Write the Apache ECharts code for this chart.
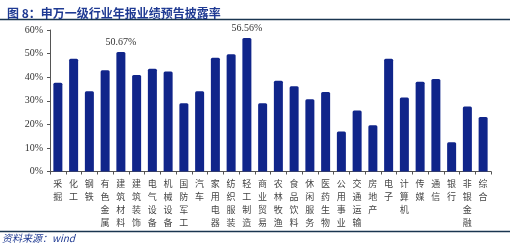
<!DOCTYPE html>
<html>
<head>
<meta charset="utf-8">
<script src="https://cdn.jsdelivr.net/npm/echarts@6/dist/echarts.min.js"></script>
<style>
html,body{margin:0;padding:0;background:#fff;}
#main{width:513px;height:246px;}
</style>
</head>
<body>
<div id="main"></div>
<script>
var categories = ['采掘','化工','钢铁','有色金属','建筑材料','建筑装饰','电气设备','机械设备','国防军工','汽车',
	'家用电器','纺织服装','轻工制造','商业贸易','农林牧渔','食品饮料','休闲服务','医药生物','公用事业','交通运输',
	'房地产','电子','计算机','传媒','通信','银行','非银金融','综合'];
var rates = [37.6, 47.8, 34.0, 42.9, 50.67, 40.9, 43.6, 42.4, 28.9, 34.0,
	48.2, 49.7, 56.56, 28.9, 38.5, 36.1, 30.6, 33.7, 17.0, 25.9,
	19.6, 47.8, 31.4, 38.1, 39.2, 12.4, 27.6, 23.1];
// only these two bars carry a value label in the picture
var labelled = ['建筑材料', '轻工制造'];
var yTicks = [0, 10, 20, 30, 40, 50, 60];

var myChart = echarts.init(document.getElementById('main'));
var option = {
	animation: false,
	title: {
		text: '图 8：申万一级行业年报业绩预告披露率',
		left: 2,
		top: 2,
		textStyle: {
			color: '#1f3a93',
			fontSize: 12,
			fontWeight: 'bold',
			fontFamily: '"Noto Sans CJK SC"'
		}
	},
	graphic: [
		{ type: 'line', shape: { x1: 0, y1: 19.5, x2: 510, y2: 19.5 }, style: { stroke: '#1a3550', lineWidth: 1.5 } },
		{ type: 'line', shape: { x1: 0, y1: 231.5, x2: 510, y2: 231.5 }, style: { stroke: '#1a3550', lineWidth: 1.5 } },
		{ type: 'text', left: 2, top: 233, style: { text: '资料来源：wind', fill: '#1f3a93', fontSize: 10, fontStyle: 'italic', fontFamily: '"Noto Sans CJK SC"' } }
	],
	grid: { left: 50, right: 22, top: 30, bottom: 74.5 },
	xAxis: {
		type: 'category',
		data: categories,
		axisLine: { lineStyle: { color: '#555', width: 1 } },
		axisTick: { show: true, length: 3, lineStyle: { color: '#555' } },
		axisLabel: {
			interval: 0,
			margin: 6,
			color: '#444',
			fontSize: 9,
			lineHeight: 13,
			fontFamily: '"Noto Sans CJK SC"',
			formatter: function (v) { return v.split('').join('\n'); },
			verticalAlign: 'top'
		}
	},
	yAxis: {
		type: 'value',
		min: 0,
		max: 60,
		interval: 10,
		splitLine: { show: false },
		axisLine: { show: true, lineStyle: { color: '#555' } },
		axisTick: { show: true, length: 3, lineStyle: { color: '#555' } },
		axisLabel: {
			margin: 7,
			color: '#333',
			fontSize: 10,
			fontFamily: '"Liberation Serif"',
			formatter: function (v) { return yTicks.indexOf(v) >= 0 ? v + '%' : ''; }
		}
	},
	series: [{
		type: 'bar',
		barWidth: 9,
		data: rates.map(function (v, i) {
			return {
				value: v,
				label: {
					show: labelled.indexOf(categories[i]) >= 0,
					position: 'top',
					distance: 5,
					formatter: v.toFixed(2) + '%',
					color: '#333',
					fontSize: 10,
					fontFamily: '"Liberation Serif"'
				}
			};
		}),
		itemStyle: { color: '#10258a', borderRadius: [1.5, 1.5, 0, 0] }
	}]
};
myChart.setOption(option);
</script>
</body>
</html>
